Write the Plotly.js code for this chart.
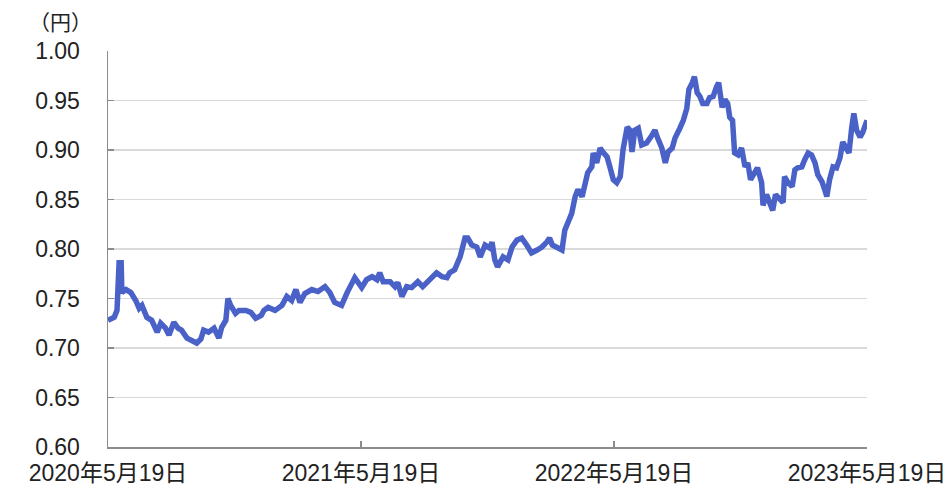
<!DOCTYPE html>
<html>
<head>
<meta charset="utf-8">
<script src="https://cdn.plot.ly/plotly-3.0.1.min.js"></script>
<style>html,body{margin:0;padding:0;background:#fff;}#chart{width:944px;height:489px;}</style>
</head>
<body>
<div id="chart"></div>
<script>
const dates = [
"2020-05-19","2020-05-28","2020-06-01","2020-06-02","2020-06-04","2020-06-07","2020-06-08","2020-06-14","2020-06-21","2020-06-28",
"2020-07-03","2020-07-07","2020-07-14","2020-07-21","2020-07-29","2020-08-03","2020-08-10","2020-08-15","2020-08-22","2020-08-28",
"2020-09-02","2020-09-10","2020-09-17","2020-09-24","2020-09-30","2020-10-04","2020-10-11","2020-10-19","2020-10-26","2020-10-30",
"2020-11-05","2020-11-08","2020-11-12","2020-11-19","2020-11-24","2020-12-04","2020-12-11","2020-12-18","2020-12-26","2020-12-30",
"2021-01-05","2021-01-15","2021-01-25","2021-02-01","2021-02-08","2021-02-14","2021-02-20","2021-02-27","2021-03-09","2021-03-18",
"2021-03-28","2021-04-04","2021-04-11","2021-04-21","2021-04-29","2021-05-06","2021-05-10","2021-05-20","2021-05-27","2021-06-04",
"2021-06-11","2021-06-15","2021-06-20","2021-06-30","2021-07-07","2021-07-11","2021-07-17","2021-07-24","2021-07-31","2021-08-09",
"2021-08-16","2021-08-19","2021-08-26","2021-09-05","2021-09-13","2021-09-20","2021-09-24","2021-10-01","2021-10-09","2021-10-16",
"2021-10-20","2021-10-26","2021-11-02","2021-11-07","2021-11-14","2021-11-21","2021-11-24","2021-11-28","2021-12-02","2021-12-10",
"2021-12-17","2021-12-23","2021-12-30","2022-01-06","2022-01-13","2022-01-20","2022-01-28","2022-02-04","2022-02-11","2022-02-15",
"2022-02-19","2022-02-26","2022-03-05","2022-03-09","2022-03-14","2022-03-19","2022-03-24","2022-03-28","2022-04-03","2022-04-07",
"2022-04-11","2022-04-17","2022-04-19","2022-04-24","2022-04-29","2022-05-03","2022-05-09","2022-05-13","2022-05-18","2022-05-23",
"2022-05-28","2022-06-01","2022-06-07","2022-06-11","2022-06-14","2022-06-18","2022-06-23","2022-06-28","2022-07-05","2022-07-13",
"2022-07-17","2022-07-21","2022-07-27","2022-08-01","2022-08-05","2022-08-11","2022-08-15","2022-08-22","2022-08-27","2022-09-01",
"2022-09-04","2022-09-09","2022-09-12","2022-09-16","2022-09-20","2022-09-24","2022-09-30","2022-10-04","2022-10-09","2022-10-14",
"2022-10-17","2022-10-22","2022-10-26","2022-10-30","2022-11-02","2022-11-06","2022-11-09","2022-11-14","2022-11-19","2022-11-24",
"2022-11-28","2022-12-02","2022-12-08","2022-12-12","2022-12-18","2022-12-20","2022-12-25","2022-12-30","2023-01-03","2023-01-07",
"2023-01-12","2023-01-18","2023-01-20","2023-01-25","2023-01-31","2023-02-04","2023-02-08","2023-02-14","2023-02-18","2023-02-23",
"2023-02-28","2023-03-05","2023-03-09","2023-03-15","2023-03-19","2023-03-22","2023-03-26","2023-03-31","2023-04-05","2023-04-10",
"2023-04-14","2023-04-20","2023-04-23","2023-04-27","2023-04-30","2023-05-04","2023-05-09","2023-05-13","2023-05-19"
];
const values = [
0.728,0.731,0.738,0.760,0.786,0.786,0.756,0.759,0.756,0.748,
0.740,0.743,0.731,0.728,0.716,0.725,0.720,0.713,0.726,0.720,
0.718,0.710,0.708,0.705,0.709,0.718,0.716,0.720,0.710,0.721,
0.728,0.750,0.743,0.735,0.738,0.738,0.736,0.730,0.733,0.738,
0.741,0.738,0.743,0.752,0.748,0.759,0.746,0.755,0.759,0.757,
0.762,0.756,0.746,0.743,0.756,0.766,0.771,0.761,0.769,0.772,
0.769,0.776,0.767,0.767,0.762,0.766,0.752,0.762,0.761,0.767,
0.762,0.764,0.769,0.776,0.772,0.771,0.776,0.779,0.792,0.811,
0.811,0.804,0.802,0.792,0.804,0.801,0.807,0.789,0.782,0.792,
0.789,0.802,0.809,0.811,0.804,0.796,0.799,0.802,0.807,0.811,
0.804,0.801,0.799,0.819,0.829,0.836,0.853,0.860,0.853,0.867,
0.877,0.883,0.897,0.887,0.902,0.898,0.893,0.883,0.870,0.867,
0.873,0.900,0.923,0.920,0.898,0.920,0.922,0.905,0.907,0.915,
0.920,0.912,0.902,0.887,0.898,0.902,0.912,0.922,0.930,0.942,
0.961,0.968,0.974,0.958,0.954,0.947,0.947,0.953,0.954,0.964,
0.968,0.943,0.951,0.947,0.933,0.930,0.897,0.895,0.902,0.883,
0.887,0.870,0.877,0.882,0.867,0.844,0.855,0.846,0.839,0.855,
0.852,0.847,0.873,0.867,0.863,0.880,0.882,0.883,0.890,0.897,
0.895,0.887,0.875,0.868,0.860,0.853,0.870,0.883,0.882,0.892,
0.908,0.900,0.897,0.923,0.937,0.920,0.913,0.918,0.930
];
const tickDates = ["2020-05-19","2021-05-19","2022-05-19","2023-05-19"];
const tickLabels = ["2020年5月19日","2021年5月19日","2022年5月19日","2023年5月19日"];
const unitLabel = "（円）";

const fontFamily = '"Liberation Sans", Arial, "Noto Sans CJK JP", sans-serif';

Plotly.newPlot('chart', [{
  x: dates, y: values, type: 'scatter', mode: 'lines',
  line: {color: '#4A62C8', width: 5.5, shape: 'linear'},
  hoverinfo: 'skip'
}], {
  width: 944, height: 489,
  margin: {l: 108, r: 77, t: 51, b: 42, pad: 0},
  paper_bgcolor: '#ffffff', plot_bgcolor: '#ffffff',
  showlegend: false,
  font: {family: fontFamily, size: 23, color: '#222'},
  xaxis: {
    type: 'date', range: ['2020-05-19', '2023-05-19'],
    tickmode: 'array', tickvals: tickDates, ticktext: tickLabels,
    showgrid: false, zeroline: false,
    showline: true, linecolor: '#8c8c8c', linewidth: 1.5,
    ticks: 'inside', ticklen: 6, tickcolor: '#8c8c8c', tickwidth: 1.5,
    ticklabelstandoff: 5, ticklabeloverflow: 'allow',
    tickfont: {family: fontFamily, size: 23, color: '#222'}
  },
  yaxis: {
    range: [0.6, 1.0], dtick: 0.05, tick0: 0.6, tickformat: '.2f',
    showgrid: true, gridcolor: '#d9d9d9', gridwidth: 1.5,
    zeroline: false,
    showline: true, linecolor: '#8c8c8c', linewidth: 1.5,
    ticks: 'inside', ticklen: 6, tickcolor: '#8c8c8c', tickwidth: 1.5,
    ticklabelstandoff: 22,
    tickfont: {family: fontFamily, size: 23, color: '#222'}
  },
  annotations: [{
    text: unitLabel, xref: 'paper', yref: 'paper',
    x: -0.018, y: 1.073, xanchor: 'right', yanchor: 'middle',
    showarrow: false, font: {family: fontFamily, size: 21, color: '#222'}
  }]
}, {displayModeBar: false, staticPlot: true});
</script>
</body>
</html>
